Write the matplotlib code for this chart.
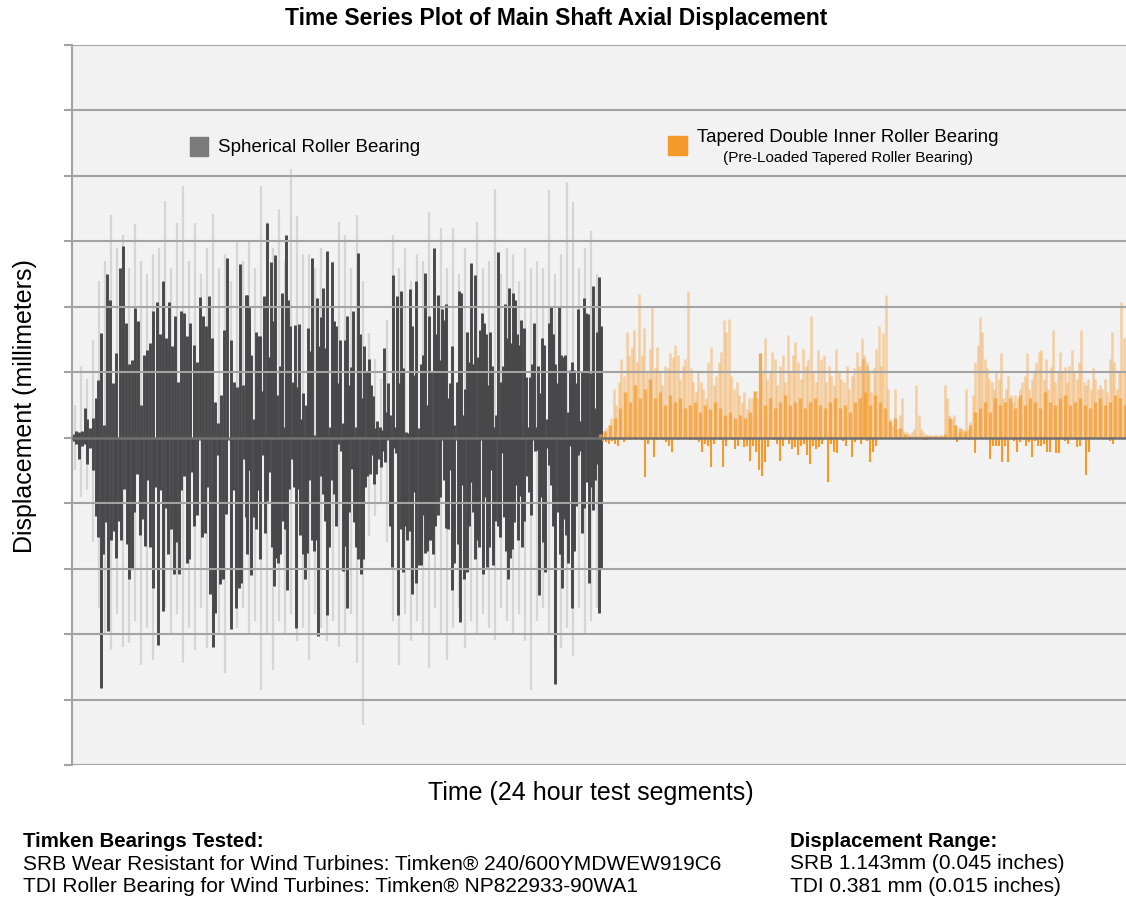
import numpy as np
import matplotlib
matplotlib.use("Agg")
import matplotlib.pyplot as plt
from matplotlib.patches import Rectangle

plt.rcParams['font.family'] = ['Liberation Sans', 'DejaVu Sans']

# ---------------------------------------------------------------------------
# data: displacement, in grid units (one grid step each)
# time axis is in test sample units (0 .. 1054)
# ---------------------------------------------------------------------------

# spherical roller bearing, dark trace -- start-up stretch then 3 stretches
srb_start_span = (1, 24)
srb_start_up = [0.05, 0.1, 0.08, 0.1, 0.45, 0.28, 0.15, 0.3, 0.6]
srb_start_dn = [-0.05, -0.1, -0.32, -0.12, -0.1, -0.4, -0.15, -0.5, -1.2]

srb_a_span = (26, 177)
srb_a_up = [0.88, 1.6, 0.2, 2.5, 2.1, 0.83, 1.3, 2.6, 2.93, 1.76, 1.12, 1.18, 1.98,
            1.78, 0.5, 1.26, 1.34, 1.45, 1.94, 2.08, 1.59, 2.4, 1.53, 2.08, 1.4, 1.86,
            0.85, 1.94, 1.91, 1.56, 1.75, 1.42, 1.15, 2.15, 1.86, 1.7, 2.16, 1.53, 0.55,
            0.23, 0.66, 1.64, 2.74, 1.5, 0.85, 0.77, 2.66, 0.8, 2.18, 2.0]
srb_a_dn = [-1.51, -3.82, -1.78, -1.29, -2.95, -1.57, -1.43, -1.84, -1.27, -1.57, -0.78,
            -1.62, -2.16, -2.0, -1.13, -0.56, -1.48, -1.24, -1.65, -0.64, -1.67, -2.3,
            -0.75, -3.17, -0.8, -2.65, -1.08, -1.78, -1.4, -2.08, -1.6, -2.08, -0.8,
            -0.59, -1.92, -1.86, -0.53, -1.35, -1.18, -0.04, -1.51, -1.46, -0.75, -2.38,
            -3.2, -2.68, -0.26, -2.24, -2.16, -1.16, -0.04, -2.92, -0.8, -2.6, -2.3,
            -2.22, -0.32, -1.21, -0.5]

srb_b_span = (175, 351)
srb_b_up = [2.18, 1.75, 1.26, 0.28, 1.61, 1.56, 1.56, 0.72, 2.16, 3.28, 1.23, 2.68, 1.78,
            2.79, 0.66, 1.1, 2.21, 0.17, 3.09, 2.1, 1.7, 0.85, 1.72, 0.77, 1.74, 0.28,
            0.69, 0.5, 1.67, 1.32, 2.74, 0.04, 2.13, 1.4, 1.85, 2.28, 1.37, 2.85, 0.17,
            2.68, 1.78, 1.7, 0.84, 1.49, 0.23, 1.49, 1.86, 0.8, 1.08, 1.94, 0.17, 2.82,
            1.59, 0.61, 1.4, 1.02, 1.2, 0.8, 0.64, 0.15, 0.26, 0.17, 0.12, 1.37, 0.39,
            0.83, 0.34, 2.48, 0.17, 2.16, 0.83, 2.24, 1.07, 0.09, 0.07, 2.27, 1.7, 0.96,
            2.4, 0.15, 1.1, 1.02]
srb_b_dn = [-1.78, -0.5, -2.1, -1.21, -1.4, -0.8, -1.86, -0.26, -1.46, -0.97, -0.53,
            -1.67, -2.27, -1.84, -1.92, -1.78, -1.27, -1.4, -2.33, -0.78, -0.32, -0.75,
            -2.9, -0.78, -1.48, -1.78, -2.16, -1.76, -0.64, -1.57, -1.73, -1.57, -3.03,
            -0.59, -0.86, -1.27, -2.71, -1.67, -0.64, -0.86, -1.35, -0.1, -0.21, -2.03,
            -1.65, -2.6, -1.13, -0.48, -1.29, -1.67, -1.86, -2.08, -1.86, -0.75, -0.59,
            -0.56, -0.26, -0.7, -0.56, -0.32, -0.45, -0.21, -0.37, -0.04, -1.35, -1.97,
            -0.15, -0.23, -2.71, -1.4, -2.05, -1.35, -1.57, -1.43, -2.38, -0.83, -2.22,
            -1.95, -1.57, -1.05]

srb_c_span = (349, 529)
srb_c_up = [1.12, 1.26, 2.51, 0.5, 1.86, 1.02, 2.9, 1.59, 2.18, 1.18, 1.97, 1.8, 2.05,
            0.61, 0.83, 1.4, 0.2, 0.85, 2.24, 2.21, 0.34, 0.74, 1.61, 1.15, 2.67, 1.12,
            2.48, 1.23, 1.64, 1.91, 1.75, 1.59, 0.8, 1.61, 1.1, 0.17, 0.34, 2.84, 0.85,
            1.1, 2.05, 1.53, 2.29, 1.45, 2.21, 2.1, 1.59, 1.42, 1.8, 1.67, 0.93, 0.17,
            0.93, 1.12, 1.75, 0.17, 1.1, 0.69, 1.53, 1.42, 0.28, 1.75, 2.02, 1.59, 1.12,
            0.83, 2.02, 1.26, 1.23, 1.26, 0.39, 1.04, 1.15, 1.04, 0.83, 1.97, 0.26, 1.02,
            2.13, 1.91, 1.89, 0.99, 2.32, 0.45, 1.61, 2.46, 1.7]
srb_c_dn = [-1.95, -1.18, -1.76, -1.73, -1.57, -1.57, -1.78, -1.35, -1.18, -0.91, -0.04,
            -0.64, -1.38, -1.4, -0.5, -2.33, -1.92, -0.04, -1.62, -2.82, -0.72, -2.16,
            -2.05, -1.35, -0.67, -1.13, -1.86, -1.57, -1.67, -0.04, -2.08, -0.91, -1.97,
            -1.67, -0.5, -1.95, -1.27, -1.35, -1.51, -0.23, -1.21, -1.73, -2.16, -1.84,
            -1.7, -1.29, -0.72, -1.57, -0.89, -1.67, -1.27, -0.59, -0.83, -1.18, -0.04,
            -0.21, -0.18, -2.41, -0.91, -1.59, -2.05, -0.15, -0.42, -0.72, -1.35, -3.77,
            -1.13, -1.78, -2.3, -1.24, -1.48, -1.92, -0.12, -2.6, -1.73, -1.05, -0.26,
            -0.21, -1.46, -1.08, -0.67, -2.22, -0.75, -1.1, -0.64, -0.4, -2.68, -2.0]

# spherical roller bearing, faint raw trace behind
srb_raw_span = (3, 525)
srb_raw_up = [0.5, 1.1, 0.9, 1.5, 2.4, 2.7, 3.4, 2.9, 3.1, 2.6, 3.27, 2.7, 2.5, 2.8, 2.9,
              3.62, 2.6, 3.28, 3.84, 2.7, 3.28, 2.5, 2.9, 3.42, 2.6, 2.8, 2.4, 3.0, 2.7,
              3.0, 2.6, 3.84, 3.3, 2.9, 3.5, 2.7, 4.1, 3.38, 2.8, 2.8, 2.6, 2.9, 2.5, 2.7,
              3.3, 3.1, 2.6, 3.4, 2.4, 1.6, 1.2, 0.9, 1.8, 3.1, 2.6, 2.9, 2.4, 2.8, 2.7,
              3.45, 2.5, 3.2, 2.6, 3.2, 2.5, 2.9, 2.4, 3.3, 2.6, 2.7, 3.8, 2.5, 2.9, 2.8,
              2.4, 2.9, 2.6, 2.7, 2.6, 3.78, 2.5, 2.8, 3.9, 3.6, 2.6, 2.9, 3.16, 2.5]
srb_raw_dn = [-0.5, -0.9, -0.8, -1.6, -2.6, -3.0, -3.25, -2.7, -3.2, -3.14, -2.8, -3.47,
              -2.9, -3.39, -2.8, -2.6, -3.0, -2.7, -3.44, -2.9, -3.25, -2.6, -3.22, -2.9,
              -3.0, -3.6, -2.7, -2.9, -2.6, -3.0, -2.8, -3.85, -3.0, -3.55, -2.8, -3.0,
              -2.7, -3.1, -2.9, -3.39, -2.7, -2.9, -3.1, -2.8, -3.2, -3.0, -2.7, -3.44,
              -4.39, -1.5, -1.2, -1.0, -1.6, -2.8, -3.47, -2.7, -3.1, -2.8, -3.0, -3.52,
              -2.6, -3.0, -3.39, -2.9, -2.6, -3.22, -2.8, -3.0, -2.7, -2.9, -3.09, -2.6,
              -2.8, -3.0, -2.7, -3.1, -3.85, -2.8, -2.6, -3.0, -2.7, -3.22, -2.9, -3.33,
              -2.6, -3.0, -2.8, -2.6]

# tapered double inner bearing, faint upward trace in two stretches
tdi_a_span = (529, 795)
tdi_a_up = [0.05, 0.1, 0.15, 0.2, 0.3, 0.75, 0.5, 0.85, 1.2, 0.95, 1.62, 1.26, 1.39, 1.64,
            1.16, 2.2, 1.26, 1.67, 1.0, 1.36, 2.0, 1.06, 1.39, 1.0, 0.8, 1.1, 1.06, 1.29,
            1.23, 1.41, 1.26, 0.9, 1.1, 1.2, 2.24, 1.06, 0.85, 0.7, 1.0, 0.85, 0.75, 0.6,
            1.16, 1.39, 0.8, 0.95, 1.16, 1.31, 1.8, 1.62, 1.82, 0.95, 0.75, 0.85, 0.65,
            0.55, 0.7, 0.44, 0.6, 0.6, 0.72, 0.6, 1.29, 1.0, 1.52, 0.9, 1.0, 1.31, 1.2,
            0.8, 1.1, 1.26, 0.85, 1.57, 1.0, 1.26, 1.46, 1.16, 0.9, 1.36, 1.1, 1.2, 1.86,
            1.0, 0.85, 1.34, 1.2, 1.26, 0.85, 1.1, 0.95, 0.8, 1.36, 1.0, 0.9, 0.85, 1.1,
            0.75, 0.95, 1.06, 1.31, 1.1, 1.2, 1.26, 1.16]
tdi_b_span = (790, 1054)
tdi_b_up = [1.52, 1.2, 1.1, 1.0, 0.7, 1.06, 1.36, 1.7, 1.1, 1.6, 2.18, 0.75, 0.29, 0.19,
            0.75, 0.14, 0.34, 0.6, 0.11, 0.09, 0.06, 0.09, 0.14, 0.8, 0.34, 0.14, 0.09,
            0.05, 0.04, 0.04, 0.04, 0.04, 0.04, 0.04, 0.04, 0.8, 0.6, 0.34, 0.29, 0.34,
            0.19, 0.09, 0.09, 0.14, 0.75, 0.14, 0.24, 0.65, 1.16, 1.41, 1.85, 1.62, 1.2,
            1.06, 0.9, 0.85, 0.75, 1.0, 0.9, 1.29, 0.6, 0.75, 0.95, 0.65, 0.55, 0.65, 0.6,
            0.75, 0.85, 0.95, 1.29, 0.75, 0.9, 1.03, 1.16, 1.31, 1.34, 0.9, 1.2, 0.75,
            1.08, 1.64, 0.85, 1.0, 1.31, 1.0, 1.08, 0.85, 1.1, 1.34, 1.0, 0.9, 1.16, 1.64,
            0.85, 0.8, 0.9, 0.75, 1.06, 0.9, 0.75, 0.8, 0.75, 0.9, 0.7, 1.2, 1.62, 1.16,
            0.75, 1.0, 2.08, 1.52, 1.0]

# tapered double inner bearing, dense body of the trace
tdi_body_span = (528, 1053)
tdi_body = [0.05, 0.1, 0.2, 0.3, 0.45, 0.7, 0.55, 0.8, 0.6, 0.75, 0.9, 0.6, 0.7, 0.5,
            0.65, 0.55, 0.6, 0.45, 0.5, 0.55, 0.4, 0.5, 0.44, 0.55, 0.45, 0.35, 0.4, 0.3,
            0.35, 0.3, 0.4, 0.72, 1.29, 0.5, 0.6, 0.45, 0.55, 0.65, 0.5, 0.55, 0.6, 0.45,
            0.55, 0.6, 0.5, 0.45, 0.55, 0.6, 0.45, 0.5, 0.4, 0.55, 0.6, 0.7, 0.5, 0.66,
            0.55, 0.45, 0.25, 0.3, 0.15, 0.05, 0.03, 0.03, 0.02, 0.02, 0.02, 0.02, 0.03,
            0.05, 0.3, 0.2, 0.15, 0.1, 0.2, 0.4, 0.45, 0.55, 0.4, 0.6, 0.5, 0.55, 0.6,
            0.45, 0.65, 0.5, 0.6, 0.55, 0.45, 0.7, 0.55, 0.5, 0.6, 0.65, 0.5, 0.55, 0.6,
            0.5, 0.45, 0.55, 0.6, 0.5, 0.55, 0.65, 0.6, 0.5]

# tapered double inner bearing, downward excursions
tdi_down_span = (528, 1053)
tdi_down = [0, -0.05, -0.07, -0.09, -0.05, -0.09, -0.12, -0.03, -0.07, 0, -0.03, 0,
            -0.03, 0, -0.03, -0.6, -0.1, 0, -0.3, -0.04, 0, -0.03, -0.07, -0.12, -0.22,
            0, -0.03, 0, -0.02, 0, -0.03, 0, -0.04, -0.07, -0.22, -0.09, -0.12, -0.45,
            -0.09, 0, -0.04, -0.45, -0.12, 0, -0.03, -0.17, -0.12, 0, -0.14, -0.12, -0.35,
            -0.12, -0.22, -0.5, -0.58, -0.37, -0.14, 0, -0.03, -0.09, -0.35, -0.12, 0,
            -0.09, -0.17, -0.14, -0.26, -0.12, -0.09, -0.27, -0.4, -0.12, -0.17, -0.14,
            -0.09, 0, -0.67, -0.09, -0.22, -0.24, 0, -0.05, -0.12, 0, -0.3, -0.07, 0,
            -0.09, 0, -0.05, -0.37, -0.22, -0.12, 0, 0, 0, 0, 0, 0, 0, 0, 0, 0, 0, 0, 0,
            0, 0, -0.03, -0.04, 0, 0, 0, 0, 0, 0, 0, 0, 0, -0.07, 0, 0, 0, -0.04, 0,
            -0.23, 0, 0, 0, 0, -0.32, -0.12, -0.12, -0.12, -0.37, -0.12, -0.37, 0, -0.05,
            -0.22, -0.07, 0, -0.12, -0.07, -0.3, -0.05, -0.12, -0.12, -0.09, -0.22, -0.22,
            0, -0.24, -0.24, 0, -0.05, -0.09, 0, 0, -0.14, -0.12, 0, -0.57, -0.22, 0, 0,
            0, 0, 0, 0, -0.05, -0.09, 0, 0, 0, 0]

grid_levels = list(range(-5, 7))

# ---------------------------------------------------------------------------
W, H = 1126, 903
fig = plt.figure(figsize=(W / 100, H / 100), dpi=100)
ax = fig.add_axes([72 / W, 1 - 766 / H, (W - 72) / W, 720 / H])
ax.set_facecolor('#f2f2f2')


def spikes(span, vals, **kw):
    t = np.linspace(span[0], span[1], len(vals))
    ax.vlines(t, 0, vals, **kw)


# faint srb trace
spikes(srb_raw_span, srb_raw_up, colors='#d6d6d6', lw=1.6, zorder=1)
spikes(srb_raw_span, srb_raw_dn, colors='#d6d6d6', lw=1.6, zorder=1)

# dark srb trace
dark = dict(colors='#48484b', lw=2.1, zorder=2)
spikes(srb_start_span, srb_start_up, **dark)
spikes(srb_start_span, srb_start_dn, **dark)
for span, up, dn in [(srb_a_span, srb_a_up, srb_a_dn),
                     (srb_b_span, srb_b_up, srb_b_dn),
                     (srb_c_span, srb_c_up, srb_c_dn)]:
    spikes(span, up, **dark)
    spikes(span, dn, **dark)

# tdi trace
faint_orange = dict(colors='#f7a23c', lw=1.8, alpha=0.45, zorder=2)
spikes(tdi_a_span, tdi_a_up, **faint_orange)
spikes(tdi_b_span, tdi_b_up, **faint_orange)
spikes(tdi_body_span, tdi_body, colors='#f59a2a', lw=2.4, alpha=0.7, zorder=2)
spikes(tdi_down_span, tdi_down, colors='#f5992a', lw=1.5, zorder=2)

# grid on top of the traces
for lv in grid_levels:
    if lv == 0:
        ax.axhline(lv, color='#717171', lw=1.8, zorder=4)
    else:
        ax.axhline(lv, color='#a3a3a3', lw=1.5, zorder=3)

ax.set_xlim(0, 1054)
ax.set_ylim(-5, 6)
ax.set_yticks(grid_levels)
ax.set_yticklabels([])
ax.set_xticks([])
ax.tick_params(axis='y', length=5.5, width=1.5, color='#a3a3a3', direction='out')
for side in ['top', 'right', 'bottom']:
    ax.spines[side].set_visible(False)
ax.spines['left'].set_color('#a3a3a3')
ax.spines['left'].set_linewidth(1.5)

ax.set_ylabel('Displacement (millimeters)', fontsize=18, labelpad=16)
fig.text(591 / W, 1 - 793 / H, 'Time (24 hour test segments)', fontsize=18,
         ha='center', va='center')
fig.text(556 / W, 1 - 18 / H, 'Time Series Plot of Main Shaft Axial Displacement',
         fontsize=16.5, fontweight='bold', ha='center', va='center')

# legend keys
fig.add_artist(Rectangle((190 / W, 1 - 157 / H), 18 / W, 19 / H,
                         transform=fig.transFigure, color='#7a7a7a'))
fig.text(218 / W, 1 - 148 / H, 'Spherical Roller Bearing', fontsize=13.5,
         ha='left', va='center')
fig.add_artist(Rectangle((668 / W, 1 - 156 / H), 19 / W, 19 / H,
                         transform=fig.transFigure, color='#f59a2a'))
fig.text(697 / W, 1 - 138 / H, 'Tapered Double Inner Roller Bearing', fontsize=13.4,
         ha='left', va='center')
fig.text(848 / W, 1 - 158 / H, '(Pre-Loaded Tapered Roller Bearing)', fontsize=11,
         ha='center', va='center')

# footer notes
fs = 15
fig.text(23 / W, 1 - 842 / H, 'Timken Bearings Tested:', fontsize=fs - 0.3,
         fontweight='bold', va='center')
fig.text(23 / W, 1 - 864 / H,
         'SRB Wear Resistant for Wind Turbines: Timken® 240/600YMDWEW919C6',
         fontsize=fs, va='center')
fig.text(23 / W, 1 - 887 / H,
         'TDI Roller Bearing for Wind Turbines: Timken® NP822933-90WA1',
         fontsize=fs, va='center')
fig.text(790 / W, 1 - 842 / H, 'Displacement Range:', fontsize=fs - 0.3,
         fontweight='bold', va='center')
fig.text(790 / W, 1 - 864 / H, 'SRB 1.143mm (0.045 inches)', fontsize=fs, va='center')
fig.text(790 / W, 1 - 887 / H, 'TDI 0.381 mm (0.015 inches)', fontsize=fs, va='center')

fig.savefig('out.png', dpi=100)
